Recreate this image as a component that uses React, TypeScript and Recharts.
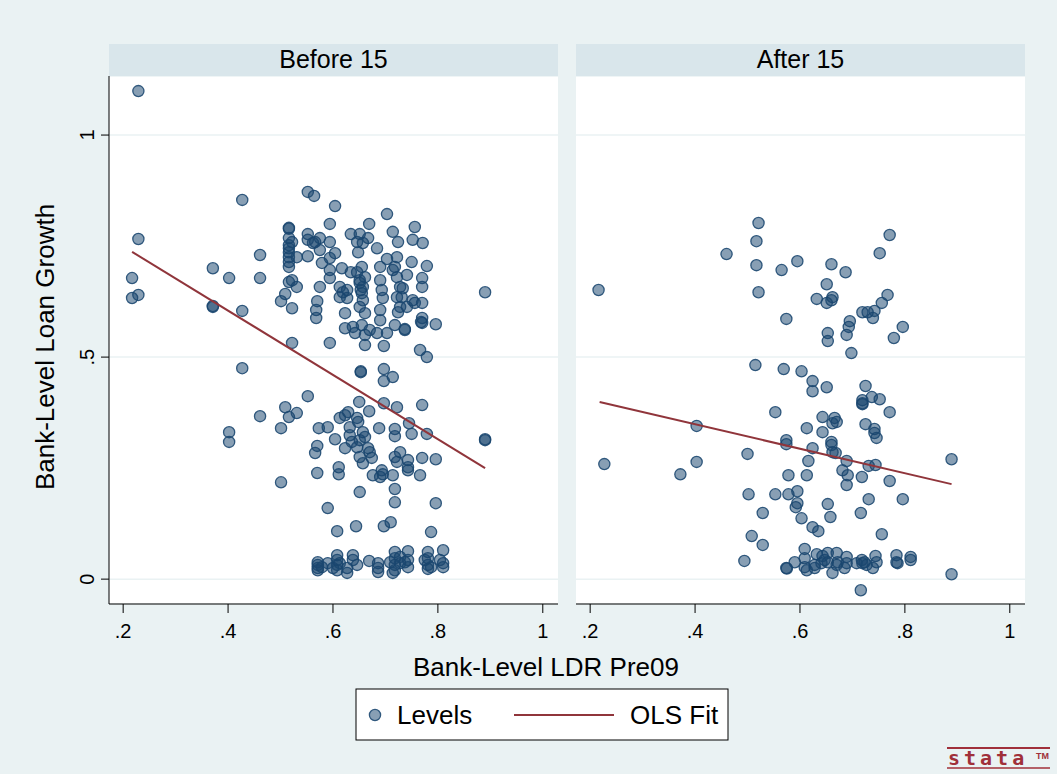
import { ScatterChart, Scatter, XAxis, YAxis, CartesianGrid } from "recharts";

// Bank-Level LDR Pre09 (x) vs Bank-Level Loan Growth (y)
const beforeLevels: [number, number][] = [
  [0.229, 1.099], [0.229, 0.766], [0.217, 0.678], [0.217, 0.633], [0.229, 0.64],
  [0.371, 0.7], [0.371, 0.615], [0.371, 0.613], [0.402, 0.678], [0.402, 0.331],
  [0.402, 0.309], [0.427, 0.854], [0.427, 0.604], [0.427, 0.475], [0.461, 0.73],
  [0.461, 0.678], [0.461, 0.367], [0.501, 0.218], [0.522, 0.532], [0.509, 0.387],
  [0.516, 0.365], [0.501, 0.34], [0.531, 0.374], [0.552, 0.412],
  [0.516, 0.791], [0.516, 0.789], [0.516, 0.768], [0.516, 0.752], [0.516, 0.745],
  [0.516, 0.736], [0.516, 0.725], [0.516, 0.714], [0.516, 0.703], [0.522, 0.759],
  [0.516, 0.669], [0.522, 0.673], [0.531, 0.725], [0.531, 0.658], [0.509, 0.642],
  [0.501, 0.626], [0.522, 0.61],
  [0.552, 0.872], [0.564, 0.863], [0.552, 0.777], [0.552, 0.764], [0.552, 0.727],
  [0.562, 0.757], [0.566, 0.759], [0.575, 0.768], [0.575, 0.741], [0.579, 0.712],
  [0.594, 0.8], [0.594, 0.759], [0.604, 0.734], [0.594, 0.723], [0.604, 0.84],
  [0.594, 0.696], [0.594, 0.678], [0.575, 0.658], [0.57, 0.626], [0.568, 0.606],
  [0.568, 0.588], [0.617, 0.7], [0.613, 0.658], [0.619, 0.646], [0.627, 0.633],
  [0.613, 0.635], [0.627, 0.651], [0.623, 0.599],
  [0.634, 0.777], [0.651, 0.777], [0.667, 0.768], [0.646, 0.759], [0.657, 0.757],
  [0.648, 0.736], [0.684, 0.745], [0.669, 0.8], [0.703, 0.822], [0.756, 0.793],
  [0.714, 0.782], [0.752, 0.764], [0.771, 0.757], [0.724, 0.759], [0.703, 0.721],
  [0.722, 0.725], [0.718, 0.703], [0.75, 0.714], [0.779, 0.705],
  [0.634, 0.691], [0.646, 0.691], [0.655, 0.703], [0.661, 0.68], [0.657, 0.658],
  [0.655, 0.644], [0.651, 0.673], [0.651, 0.667], [0.653, 0.651],
  [0.69, 0.703], [0.69, 0.673], [0.693, 0.651], [0.695, 0.633], [0.714, 0.696],
  [0.722, 0.68], [0.728, 0.658], [0.741, 0.685], [0.733, 0.655], [0.731, 0.635],
  [0.77, 0.678], [0.77, 0.658],
  [0.651, 0.613], [0.661, 0.599], [0.657, 0.628], [0.69, 0.606], [0.69, 0.583],
  [0.724, 0.601], [0.728, 0.613], [0.722, 0.635], [0.741, 0.613], [0.752, 0.628],
  [0.756, 0.622], [0.77, 0.622], [0.77, 0.588], [0.768, 0.579], [0.796, 0.574],
  [0.89, 0.646],
  [0.623, 0.565], [0.638, 0.568], [0.642, 0.554], [0.655, 0.572], [0.661, 0.55],
  [0.67, 0.561], [0.684, 0.554], [0.703, 0.554], [0.718, 0.572], [0.737, 0.563],
  [0.737, 0.561], [0.77, 0.577],
  [0.594, 0.532], [0.661, 0.527], [0.697, 0.525], [0.766, 0.516], [0.779, 0.5],
  [0.653, 0.468], [0.653, 0.466], [0.697, 0.473], [0.714, 0.455], [0.697, 0.446],
  [0.65, 0.399], [0.669, 0.378], [0.697, 0.396], [0.722, 0.387], [0.77, 0.392],
  [0.613, 0.363], [0.629, 0.376], [0.623, 0.369], [0.646, 0.363], [0.648, 0.354],
  [0.573, 0.34], [0.59, 0.342], [0.632, 0.342], [0.632, 0.324], [0.636, 0.309],
  [0.646, 0.297], [0.657, 0.331], [0.661, 0.32], [0.651, 0.313], [0.688, 0.34],
  [0.718, 0.338], [0.718, 0.322], [0.745, 0.351], [0.75, 0.327], [0.779, 0.327],
  [0.604, 0.315], [0.57, 0.3], [0.566, 0.284], [0.623, 0.295], [0.667, 0.295],
  [0.67, 0.286], [0.651, 0.275], [0.674, 0.273], [0.657, 0.261], [0.728, 0.286],
  [0.718, 0.275], [0.722, 0.264], [0.743, 0.268], [0.743, 0.252], [0.77, 0.273],
  [0.796, 0.27], [0.611, 0.252], [0.611, 0.236], [0.57, 0.239], [0.693, 0.245],
  [0.695, 0.236], [0.676, 0.234], [0.69, 0.23], [0.714, 0.234], [0.766, 0.234],
  [0.89, 0.315], [0.89, 0.313], [0.743, 0.245],
  [0.651, 0.196], [0.718, 0.203], [0.718, 0.173], [0.796, 0.171], [0.59, 0.16],
  [0.608, 0.108], [0.644, 0.119], [0.697, 0.119], [0.71, 0.128], [0.787, 0.106],
  [0.571, 0.032], [0.571, 0.025], [0.571, 0.02], [0.571, 0.038], [0.579, 0.027],
  [0.59, 0.036], [0.6, 0.025], [0.608, 0.054], [0.608, 0.043], [0.608, 0.032],
  [0.608, 0.02], [0.613, 0.036], [0.627, 0.025], [0.627, 0.014], [0.638, 0.054],
  [0.638, 0.043], [0.646, 0.032], [0.669, 0.041], [0.686, 0.036], [0.686, 0.025],
  [0.686, 0.016], [0.709, 0.038], [0.718, 0.061], [0.718, 0.047], [0.718, 0.032],
  [0.718, 0.02], [0.714, 0.014], [0.728, 0.05], [0.728, 0.036], [0.737, 0.038],
  [0.743, 0.063], [0.743, 0.043], [0.743, 0.027], [0.775, 0.043], [0.781, 0.061],
  [0.781, 0.047], [0.781, 0.032], [0.781, 0.023], [0.787, 0.027], [0.804, 0.043],
  [0.81, 0.065], [0.81, 0.036], [0.81, 0.027],
];

const afterLevels: [number, number][] = [
  [0.216, 0.651], [0.227, 0.259], [0.372, 0.236], [0.403, 0.345], [0.403, 0.264],
  [0.46, 0.732], [0.494, 0.041], [0.5, 0.282], [0.502, 0.191], [0.508, 0.097],
  [0.515, 0.482], [0.517, 0.761], [0.517, 0.707], [0.521, 0.802], [0.521, 0.646],
  [0.529, 0.149], [0.529, 0.077], [0.553, 0.376], [0.553, 0.191], [0.565, 0.696],
  [0.569, 0.473], [0.574, 0.586], [0.574, 0.313], [0.574, 0.304], [0.578, 0.234],
  [0.578, 0.191], [0.595, 0.716], [0.595, 0.198], [0.595, 0.171], [0.592, 0.162],
  [0.603, 0.468], [0.603, 0.137], [0.613, 0.34], [0.613, 0.234], [0.616, 0.266],
  [0.624, 0.446], [0.624, 0.423], [0.624, 0.295], [0.624, 0.117], [0.635, 0.108],
  [0.643, 0.365], [0.643, 0.331], [0.651, 0.664], [0.651, 0.432], [0.651, 0.622],
  [0.66, 0.628], [0.662, 0.635], [0.653, 0.554], [0.653, 0.536], [0.653, 0.169],
  [0.658, 0.14], [0.66, 0.709], [0.66, 0.309], [0.66, 0.302], [0.662, 0.286],
  [0.668, 0.284], [0.666, 0.363], [0.67, 0.354], [0.662, 0.351], [0.632, 0.631],
  [0.681, 0.245], [0.691, 0.234], [0.687, 0.691], [0.689, 0.55], [0.693, 0.568],
  [0.695, 0.581], [0.689, 0.266], [0.689, 0.212], [0.698, 0.509], [0.716, 0.149],
  [0.718, 0.23], [0.719, 0.601], [0.729, 0.601], [0.742, 0.604], [0.739, 0.588],
  [0.719, 0.403], [0.737, 0.41], [0.752, 0.405], [0.719, 0.396], [0.719, 0.394],
  [0.725, 0.435], [0.725, 0.349], [0.731, 0.255], [0.744, 0.257], [0.731, 0.18],
  [0.742, 0.338], [0.742, 0.329], [0.746, 0.318], [0.752, 0.734], [0.756, 0.622],
  [0.756, 0.101], [0.767, 0.64], [0.771, 0.775], [0.771, 0.376], [0.771, 0.221],
  [0.779, 0.543], [0.796, 0.568], [0.796, 0.18], [0.889, 0.27], [0.889, 0.011],
  [0.716, -0.025],
  [0.574, 0.025], [0.575, 0.024], [0.59, 0.038], [0.609, 0.068], [0.609, 0.047],
  [0.609, 0.027], [0.613, 0.02], [0.628, 0.032], [0.628, 0.025], [0.632, 0.056],
  [0.643, 0.052], [0.647, 0.043], [0.641, 0.036], [0.653, 0.059], [0.653, 0.038],
  [0.662, 0.014], [0.67, 0.059], [0.672, 0.038], [0.67, 0.032], [0.689, 0.05],
  [0.689, 0.036], [0.685, 0.025], [0.708, 0.036], [0.718, 0.043], [0.719, 0.036],
  [0.727, 0.032], [0.723, 0.038], [0.739, 0.025], [0.744, 0.052], [0.746, 0.038],
  [0.784, 0.054], [0.784, 0.038], [0.786, 0.036], [0.811, 0.05], [0.811, 0.043],
];

// fitted line end points
const beforeFit: [number, number][] = [[0.217, 0.737], [0.89, 0.25]];
const afterFit: [number, number][] = [[0.218, 0.399], [0.889, 0.214]];

const xTicks = [0.2, 0.4, 0.6, 0.8, 1];
const yTicks = [0, 0.5, 1];
const xDomain: [number, number] = [0.173, 1.029];
const yDomain: [number, number] = [-0.056, 1.133];
const panels = ["Before 15", "After 15"];

const BG = "#EAF2F3";
const STRIP = "#D9E6EB";
const NAVY = "#1A476F";
const MAROON = "#90353B";
const FONT = "'Liberation Sans', Arial, sans-serif";

const fmt = (v: number) => String(v).replace(/^0\./, ".");
const toPts = (arr: [number, number][]) => arr.map(([x, y]) => ({ x, y }));

const Dot = (p: any) => (
  <circle
    cx={p.cx}
    cy={p.cy}
    r={5.6}
    fill={NAVY}
    fillOpacity={0.52}
    stroke={NAVY}
    strokeOpacity={0.88}
    strokeWidth={1.3}
  />
);

const YTick = (p: any) => {
  const x = p.x - 5;
  return (
    <text
      x={x}
      y={p.y}
      transform={`rotate(-90 ${x} ${p.y})`}
      textAnchor="middle"
      fontSize={20}
      fontFamily={FONT}
      fill="#000"
    >
      {fmt(p.payload.value)}
    </text>
  );
};

function Panel({
  levels,
  fit,
  showY,
}: {
  levels: [number, number][];
  fit: [number, number][];
  showY: boolean;
}) {
  return (
    <ScatterChart
      width={showY ? 580 : 490}
      height={650}
      margin={{ top: 76, right: showY ? 22 : 25, bottom: 6, left: showY ? 0 : 16 }}
    >
      <CartesianGrid
        horizontal
        vertical={false}
        fill="#fff"
        stroke={BG}
        strokeWidth={1.5}
      />
      <XAxis
        type="number"
        dataKey="x"
        domain={xDomain}
        ticks={xTicks}
        allowDataOverflow
        tickFormatter={fmt}
        tickSize={9}
        tickMargin={11}
        height={40}
        stroke="#000"
        tick={{ fontSize: 20, fill: "#000", fontFamily: FONT }}
      />
      <YAxis
        type="number"
        dataKey="y"
        domain={yDomain}
        ticks={yTicks}
        allowDataOverflow
        hide={!showY}
        width={109}
        tickSize={8}
        stroke="#000"
        tick={<YTick />}
      />
      <Scatter data={toPts(levels)} shape={Dot} isAnimationActive={false} />
      <Scatter
        data={toPts(fit)}
        line={{ stroke: MAROON, strokeWidth: 2 }}
        lineType="joint"
        shape={() => <g />}
        isAnimationActive={false}
      />
    </ScatterChart>
  );
}

export default function App() {
  return (
    <div
      style={{
        position: "absolute",
        left: 0,
        top: 0,
        width: 1057,
        height: 774,
        background: BG,
        fontFamily: FONT,
      }}
    >
      <div style={{ position: "absolute", left: 0, top: 0 }}>
        <Panel levels={beforeLevels} fit={beforeFit} showY />
      </div>
      <div style={{ position: "absolute", left: 560, top: 0 }}>
        <Panel levels={afterLevels} fit={afterFit} showY={false} />
      </div>
      <svg
        width={1057}
        height={774}
        style={{ position: "absolute", left: 0, top: 0, pointerEvents: "none" }}
        fontFamily={FONT}
      >
        <rect x={109} y={44} width={449} height={32} fill={STRIP} />
        <rect x={576} y={44} width={449} height={32} fill={STRIP} />
        <text x={333.5} y={68} textAnchor="middle" fontSize={25}>
          {panels[0]}
        </text>
        <text x={800.5} y={68} textAnchor="middle" fontSize={25}>
          {panels[1]}
        </text>
        <text
          x={54}
          y={347}
          transform="rotate(-90 54 347)"
          textAnchor="middle"
          fontSize={26}
        >
          Bank-Level Loan Growth
        </text>
        <text x={546} y={676} textAnchor="middle" fontSize={26}>
          Bank-Level LDR Pre09
        </text>
        {/* legend */}
        <rect x={356} y={689} width={372} height={51} fill="#fff" stroke="#000" strokeWidth={1} />
        <circle
          cx={375}
          cy={715}
          r={5.6}
          fill={NAVY}
          fillOpacity={0.52}
          stroke={NAVY}
          strokeOpacity={0.88}
          strokeWidth={1.3}
        />
        <text x={397} y={724} fontSize={26}>
          Levels
        </text>
        <line x1={514} y1={715} x2={614} y2={715} stroke={MAROON} strokeWidth={2} />
        <text x={630} y={724} fontSize={26}>
          OLS Fit
        </text>
        {/* stata mark */}
        <line x1={947} y1={748} x2={1050} y2={748} stroke="#A0303A" strokeWidth={2} />
        <text
          x={948}
          y={765}
          fontSize={20}
          fill="#A0303A"
          letterSpacing={4}
          fontWeight="bold"
          fontFamily="'DejaVu Sans Mono', monospace"
        >
          stata
        </text>
        <text x={1036} y={759} fontSize={9} fontWeight="bold" fill="#A0303A">
          TM
        </text>
        <line x1={947} y1={768} x2={1050} y2={768} stroke="#A0303A" strokeWidth={1.5} />
      </svg>
    </div>
  );
}
